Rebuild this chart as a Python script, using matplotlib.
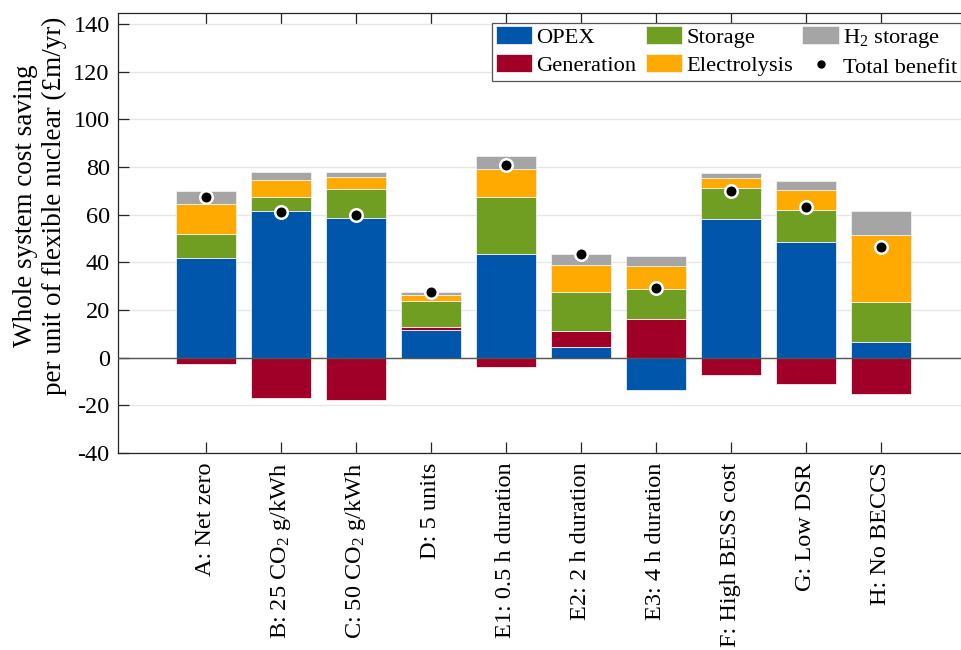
import numpy as np
import matplotlib
matplotlib.use("Agg")
import matplotlib.pyplot as plt
from matplotlib.lines import Line2D

plt.rcParams['font.family'] = ['Liberation Serif', 'DejaVu Serif']
plt.rcParams['mathtext.fontset'] = 'custom'
plt.rcParams['mathtext.rm'] = 'Liberation Serif'
plt.rcParams['mathtext.it'] = 'Liberation Serif:italic'
plt.rcParams['axes.unicode_minus'] = False

categories = ['A: Net zero', r'B: 25 CO$_\mathregular{2}$ g/kWh', r'C: 50 CO$_\mathregular{2}$ g/kWh',
              'D: 5 units', 'E1: 0.5 h duration', 'E2: 2 h duration', 'E3: 4 h duration',
              'F: High BESS cost', 'G: Low DSR', 'H: No BECCS']
opex        = [41.8, 61.6, 58.7, 11.6, 43.6, 4.3, -13.4, 58.3, 48.7, 6.6]
generation  = [-2.6, -16.9, -17.6, 1.1, -3.9, 6.9, 16.1, -7.4, -10.9, -15.1]
storage     = [10.2, 5.8, 12.1, 10.9, 23.6, 16.5, 12.8, 12.9, 13.3, 16.6]
electrolysis= [12.5, 7.2, 4.8, 2.8, 12.0, 11.0, 9.5, 4.2, 8.4, 28.2]
h2_storage  = [5.5, 3.2, 2.1, 1.1, 5.6, 4.6, 4.2, 2.0, 3.7, 10.3]
total_benefit = [67.4, 61.1, 59.9, 27.7, 80.9, 43.5, 29.3, 70.0, 63.0, 46.6]

series = [opex, generation, storage, electrolysis, h2_storage]
names = ['OPEX', 'Generation', 'Storage', 'Electrolysis', r'H$_\mathregular{2}$ storage']
colors = ['#0056AA', '#A00028', '#6F9E22', '#FFAA00', '#A5A5A5']

W, H = 962, 650
fig = plt.figure(figsize=(W / 100, H / 100), dpi=100)
ax = fig.add_axes([118 / W, 1 - 453 / H, (968 - 118) / W, 440 / H])

x = np.arange(1, len(categories) + 1)
pos_base = np.zeros(len(x))
neg_base = np.zeros(len(x))
handles = {}
for vals, name, c in zip(series, names, colors):
    v = np.array(vals, dtype=float)
    bottoms = np.where(v >= 0, pos_base, neg_base)
    b = ax.bar(x, v, width=0.8, bottom=bottoms, color=c, edgecolor='#f0f0f0',
               linewidth=0.6, zorder=3, label=name)
    handles[name] = b
    pos_base = pos_base + np.where(v >= 0, v, 0)
    neg_base = neg_base + np.where(v < 0, v, 0)

ax.plot(x, total_benefit, linestyle='none', marker='o', markersize=9,
        markerfacecolor='black', markeredgecolor='white', markeredgewidth=1.8, zorder=5)

ax.axhline(0, color='#555555', linewidth=1.0, zorder=4)

ax.set_ylim(-40, 144.6)
ax.set_xlim(-0.173, 11.16)
ax.set_yticks(np.arange(-40, 141, 20))
ax.set_xticks(x)
ax.set_xticklabels(categories, rotation=90, ha='center', va='top')
ax.yaxis.grid(True, color='#e6e6e6', linewidth=1.0, zorder=0)
ax.set_axisbelow(True)
ax.tick_params(axis='both', direction='in', length=8, width=0.9, colors='#262626',
               labelsize=17.5, labelcolor='black')
ax.tick_params(axis='x', top=True, pad=7)
ax.tick_params(axis='y', right=False, pad=6)
for s in ax.spines.values():
    s.set_color('#262626')
    s.set_linewidth(0.9)

ax.set_ylabel('Whole system cost saving\nper unit of flexible nuclear (£m/yr)',
              fontsize=19.5, va='center', ha='center', multialignment='center',
              linespacing=1.15)
ax.yaxis.set_label_coords((40 - 118) / (968 - 118), (453 - 206) / 440)

leg_handles = [handles['OPEX'], handles['Generation'], handles['Storage'],
               handles['Electrolysis'], handles[r'H$_\mathregular{2}$ storage'],
               Line2D([], [], linestyle='none', marker='o', markersize=5,
                      markerfacecolor='black', markeredgecolor='black')]
leg_labels = ['OPEX', 'Generation', 'Storage', 'Electrolysis',
              r'H$_\mathregular{2}$ storage', 'Total benefit']
leg = fig.legend(leg_handles, leg_labels, ncol=3, loc='upper right',
                 bbox_to_anchor=(961 / W, 1 - 23 / H), bbox_transform=fig.transFigure,
                 fontsize=16.2, frameon=True, fancybox=False, edgecolor='#555555',
                 framealpha=1, borderpad=0.15, handlelength=1.64, handleheight=0.85,
                 handletextpad=0.18, columnspacing=0.4, labelspacing=0.25, borderaxespad=0)
leg.get_frame().set_linewidth(0.9)

fig.savefig('out.png', dpi=100)
